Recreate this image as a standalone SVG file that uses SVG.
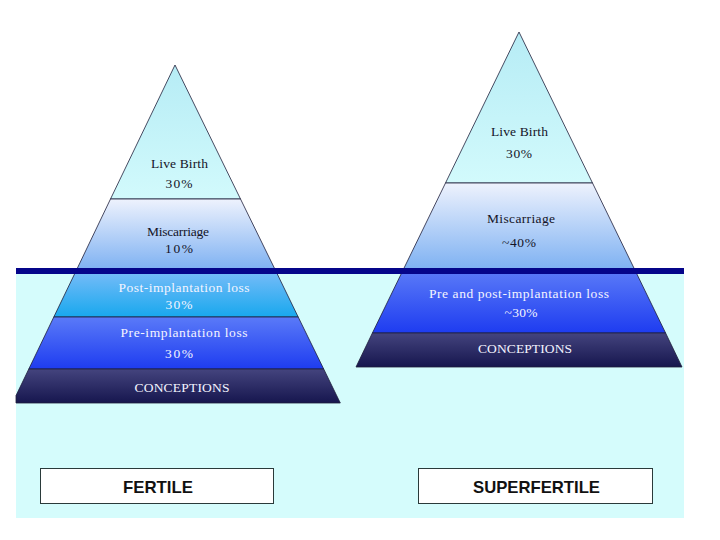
<svg xmlns="http://www.w3.org/2000/svg" width="720" height="540" viewBox="0 0 720 540">
<defs>
<linearGradient id="gTop" x1="0" y1="0" x2="0" y2="1"><stop offset="0" stop-color="#b6ecf5"/><stop offset="1" stop-color="#d2fafc"/></linearGradient>
<linearGradient id="gMis" x1="0" y1="0" x2="0" y2="1"><stop offset="0" stop-color="#eef2fd"/><stop offset="1" stop-color="#7cb0f2"/></linearGradient>
<linearGradient id="gPost" x1="0" y1="0" x2="0" y2="1"><stop offset="0" stop-color="#78bcf8"/><stop offset="1" stop-color="#18a8ee"/></linearGradient>
<linearGradient id="gPre" x1="0" y1="0" x2="0" y2="1"><stop offset="0" stop-color="#5a7af8"/><stop offset="1" stop-color="#1e3cf0"/></linearGradient>
<linearGradient id="gCon" x1="0" y1="0" x2="0" y2="1"><stop offset="0" stop-color="#44447e"/><stop offset="1" stop-color="#16164e"/></linearGradient>
</defs>
<style>
.band{stroke:#1e1e3a;stroke-width:0.8;stroke-linejoin:round}
.dk{font-family:"Liberation Serif","DejaVu Serif",serif;font-size:13.5px;fill:#141428;text-anchor:middle}
.lt{font-family:"Liberation Serif","DejaVu Serif",serif;font-size:13.5px;fill:#f4f4ff;text-anchor:middle}
.box{fill:#ffffff;stroke:#2a3a3a;stroke-width:1}
.lbl{font-family:"Liberation Sans",Arial,sans-serif;font-weight:bold;font-size:17px;fill:#111;text-anchor:middle}
</style>
<rect x="0" y="0" width="720" height="540" fill="#ffffff"/>
<rect x="16" y="272" width="668" height="246" fill="#d5fcfc"/>

<g id="fertile-pyramid">
<g id="f-live-birth">
<polygon class="band" points="175,65 110.5,199 240.5,199" fill="url(#gTop)"/>
<text class="dk" x="179.5" y="168" textLength="57" lengthAdjust="spacing">Live Birth</text>
<text class="dk" x="179" y="188" textLength="27" lengthAdjust="spacing">30%</text>
</g>
<g id="f-miscarriage">
<polygon class="band" points="110.5,199 240.5,199 275.8,271 76,271" fill="url(#gMis)"/>
<text class="dk" x="178" y="236" textLength="62" lengthAdjust="spacing">Miscarriage</text>
<text class="dk" x="179" y="253" textLength="28" lengthAdjust="spacing">10%</text>
</g>
<g id="f-post-implantation">
<polygon class="band" points="76,271 275.8,271 298.2,317 53.8,317" fill="url(#gPost)"/>
<text class="lt" x="184" y="292" textLength="131" lengthAdjust="spacing">Post-implantation loss</text>
<text class="lt" x="179" y="309" textLength="27" lengthAdjust="spacing">30%</text>
</g>
<g id="f-pre-implantation">
<polygon class="band" points="53.8,317 298.2,317 323.7,369 28.8,369" fill="url(#gPre)"/>
<text class="lt" x="184" y="337" textLength="127" lengthAdjust="spacing">Pre-implantation loss</text>
<text class="lt" x="179" y="358" textLength="28" lengthAdjust="spacing">30%</text>
</g>
<g id="f-conceptions">
<polygon class="band" points="28.8,369 323.7,369 340.3,403 16,403 16,395.6" fill="url(#gCon)"/>
<text class="lt" x="182" y="392" textLength="95" lengthAdjust="spacing">CONCEPTIONS</text>
</g>
</g>

<g id="superfertile-pyramid">
<g id="s-live-birth">
<polygon class="band" points="519,32 445.5,183 592.5,183" fill="url(#gTop)"/>
<text class="dk" x="519.5" y="136" textLength="57" lengthAdjust="spacing">Live Birth</text>
<text class="dk" x="519" y="158" textLength="26" lengthAdjust="spacing">30%</text>
</g>
<g id="s-miscarriage">
<polygon class="band" points="445.5,183 592.5,183 635.4,271 402.6,271" fill="url(#gMis)"/>
<text class="dk" x="521" y="223" textLength="68" lengthAdjust="spacing">Miscarriage</text>
<text class="dk" x="519" y="247" textLength="34" lengthAdjust="spacing">~40%</text>
</g>
<g id="s-pre-post-implantation">
<polygon class="band" points="402.6,271 635.4,271 665.6,333 372.4,333" fill="url(#gPre)"/>
<text class="lt" x="519" y="298" textLength="180" lengthAdjust="spacing">Pre and post-implantation loss</text>
<text class="lt" x="521" y="317" textLength="33" lengthAdjust="spacing">~30%</text>
</g>
<g id="s-conceptions">
<polygon class="band" points="372.4,333 665.6,333 682,367 356,367" fill="url(#gCon)"/>
<text class="lt" x="525" y="353" textLength="94" lengthAdjust="spacing">CONCEPTIONS</text>
</g>
</g>

<g id="connectors">
<rect id="waterline" x="16" y="268" width="668" height="6" fill="#05058a"/>
</g>

<g id="fertile-label">
<rect class="box" x="40.5" y="468.5" width="233" height="35"/>
<text class="lbl" x="158" y="493" textLength="70" lengthAdjust="spacingAndGlyphs">FERTILE</text>
</g>
<g id="superfertile-label">
<rect class="box" x="418.5" y="468.5" width="234" height="35"/>
<text class="lbl" x="536.5" y="493" textLength="127" lengthAdjust="spacingAndGlyphs">SUPERFERTILE</text>
</g>
</svg>
